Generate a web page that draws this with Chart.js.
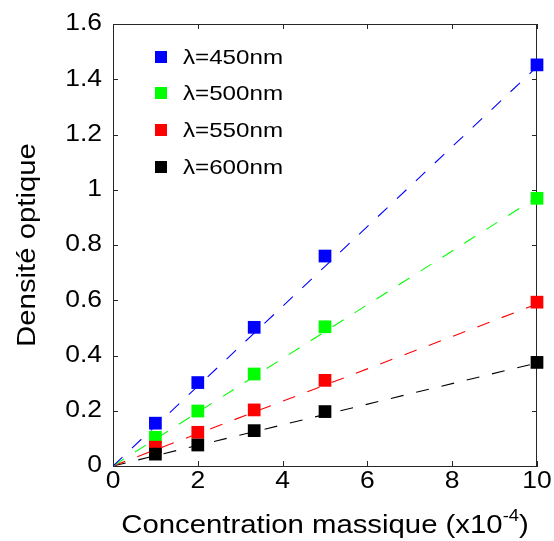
<!DOCTYPE html>
<html>
<head>
<meta charset="utf-8">
<script src="https://cdn.jsdelivr.net/npm/chart.js@4/dist/chart.umd.min.js"></script>
<style>
  html, body { margin: 0; padding: 0; background: #fff; }
  #wrap { width: 554px; height: 541px; }
</style>
</head>
<body>
<div id="wrap"><canvas id="chart" width="554" height="541"></canvas></div>
<script>
// mass concentration (x1e-4)
const concentration = [1, 2, 3.33, 5, 10];
// optical density per wavelength
const od450 = [0.155, 0.302, 0.502, 0.760, 1.452];
const od500 = [0.104, 0.199, 0.333, 0.504, 0.969];
const od550 = [0.068, 0.122, 0.203, 0.310, 0.593];
const od600 = [0.043, 0.076, 0.128, 0.197, 0.375];
// dashed linear fits, from origin to x=10
const fitX = [0, 10];
const fit450 = [0, 1.445];
const fit500 = [0, 0.973];
const fit550 = [0, 0.586];
const fit600 = [0, 0.373];

const seriesLabels = ['λ=450nm', 'λ=500nm', 'λ=550nm', 'λ=600nm'];
const seriesColors = ['#0000ff', '#00ff00', '#ff0000', '#000000'];
const xTicks = [0, 2, 4, 6, 8, 10];
const yTicks = [0, 0.2, 0.4, 0.6, 0.8, 1, 1.2, 1.4, 1.6];
const xTickLabels = ['0', '2', '4', '6', '8', '10'];
const yTickLabels = ['0', '0.2', '0.4', '0.6', '0.8', '1', '1.2', '1.4', '1.6'];

const FONT = '"Liberation Sans", Arial, Helvetica, sans-serif';
const STRETCH = 1.15; // the original text is a bit wider than plain Arial

function pts(xs, ys) {
    return xs.map((x, i) => ({ x: x, y: ys[i] }));
}

// text drawn slightly wider than the font, like the reference
function wideText(ctx, text, x, y, align) {
    const w = ctx.measureText(text).width * STRETCH;
    let left = x;
    if (align === 'center') left = x - w / 2;
    else if (align === 'right') left = x - w;
    ctx.save();
    ctx.translate(left, y);
    ctx.scale(STRETCH, 1);
    ctx.textAlign = 'left';
    ctx.fillText(text, 0, 0);
    ctx.restore();
    return w;
}

const measured = [od450, od500, od550, od600];
const fits = [fit450, fit500, fit550, fit600];

const datasets = [];
for (let k = 0; k < 4; k++) {
    datasets.push({
        label: seriesLabels[k],
        data: pts(concentration, measured[k]),
        pointStyle: 'rect',
        pointRadius: 9,
        pointBorderWidth: 0,
        backgroundColor: seriesColors[k],
        borderColor: seriesColors[k],
        showLine: false,
        clip: false,
        order: 4 - k + 1
    });
}
for (let k = 0; k < 4; k++) {
    datasets.push({
        label: 'fit ' + seriesLabels[k],
        data: pts(fitX, fits[k]),
        showLine: true,
        pointRadius: 0,
        borderColor: seriesColors[k],
        borderWidth: 1.1,
        borderDash: [13, 13],
        fill: false,
        order: 0
    });
}

// box + inward ticks go under the data, texts on top
const decorations = {
    id: 'decorations',
    beforeDatasetsDraw(chart) {
        const ctx = chart.ctx;
        const a = chart.chartArea;
        const xs = chart.scales.x;
        const ys = chart.scales.y;
        ctx.save();
        ctx.strokeStyle = '#262626';
        ctx.lineWidth = 1;
        ctx.beginPath();
        ctx.moveTo(a.left, a.top + 0.5);
        ctx.lineTo(a.right, a.top + 0.5);
        ctx.moveTo(a.right - 0.5, a.top);
        ctx.lineTo(a.right - 0.5, a.bottom);
        const tl = 5;
        xTicks.forEach(v => {
            const px = Math.round(xs.getPixelForValue(v)) + 0.5;
            ctx.moveTo(px, a.bottom);
            ctx.lineTo(px, a.bottom - tl);
            ctx.moveTo(px, a.top);
            ctx.lineTo(px, a.top + tl);
        });
        yTicks.forEach(v => {
            const py = Math.round(ys.getPixelForValue(v)) + 0.5;
            ctx.moveTo(a.left, py);
            ctx.lineTo(a.left + tl, py);
            ctx.moveTo(a.right, py);
            ctx.lineTo(a.right - tl, py);
        });
        ctx.stroke();
        ctx.restore();
    },
    afterDraw(chart) {
        const ctx = chart.ctx;
        const a = chart.chartArea;
        const xs = chart.scales.x;
        const ys = chart.scales.y;
        ctx.save();

        // tick labels
        ctx.fillStyle = '#000';
        ctx.font = '23px ' + FONT;
        ctx.textBaseline = 'middle';
        xTicks.forEach((v, i) => {
            wideText(ctx, xTickLabels[i], xs.getPixelForValue(v), a.bottom + 16, 'center');
        });
        yTicks.forEach((v, i) => {
            wideText(ctx, yTickLabels[i], a.left - 11, ys.getPixelForValue(v), 'right');
        });

        // legend
        const rows = [57, 93, 130, 167];
        ctx.font = '21px ' + FONT;
        for (let k = 0; k < 4; k++) {
            ctx.fillStyle = seriesColors[k];
            ctx.fillRect(155, rows[k] - 6, 12, 12);
            ctx.fillStyle = '#000';
            wideText(ctx, seriesLabels[k], 183, rows[k] + 1, 'left');
        }

        // x title with superscript
        const main = 'Concentration massique (x10';
        const sup = '-4';
        const close = ')';
        const big = '25.5px ' + FONT;
        const small = '16px ' + FONT;
        ctx.font = big;
        const w1 = ctx.measureText(main).width * STRETCH;
        const w3 = ctx.measureText(close).width * STRETCH;
        ctx.font = small;
        const w2 = ctx.measureText(sup).width * STRETCH;
        const cx = (a.left + a.right) / 2;
        const x0 = cx - (w1 + w2 + w3) / 2;
        const base = 533;
        ctx.textBaseline = 'alphabetic';
        ctx.font = big;
        wideText(ctx, main, x0, base, 'left');
        ctx.font = small;
        wideText(ctx, sup, x0 + w1, base - 12, 'left');
        ctx.font = big;
        wideText(ctx, close, x0 + w1 + w2, base, 'left');

        // y title
        ctx.translate(28, (a.top + a.bottom) / 2);
        ctx.rotate(-Math.PI / 2);
        ctx.textBaseline = 'middle';
        ctx.font = big;
        wideText(ctx, 'Densité optique', 0, 0, 'center');
        ctx.restore();
    }
};

new Chart(document.getElementById('chart'), {
    type: 'scatter',
    data: { datasets: datasets },
    options: {
        responsive: false,
        animation: false,
        layout: { padding: { top: 24, right: 17, left: 0, bottom: 0 } },
        plugins: {
            legend: { display: false },
            tooltip: { enabled: false }
        },
        scales: {
            x: {
                type: 'linear',
                min: 0,
                max: 10,
                afterBuildTicks: s => { s.ticks = xTicks.map(v => ({ value: v })); },
                afterFit: s => { s.height = 75; },
                grid: { display: false },
                border: { display: true, color: '#262626', width: 1 },
                ticks: { display: false }
            },
            y: {
                type: 'linear',
                min: 0,
                max: 1.6,
                afterBuildTicks: s => { s.ticks = yTicks.map(v => ({ value: v })); },
                afterFit: s => { s.width = 113; },
                grid: { display: false },
                border: { display: true, color: '#262626', width: 1 },
                ticks: { display: false }
            }
        }
    },
    plugins: [decorations]
});
</script>
</body>
</html>
